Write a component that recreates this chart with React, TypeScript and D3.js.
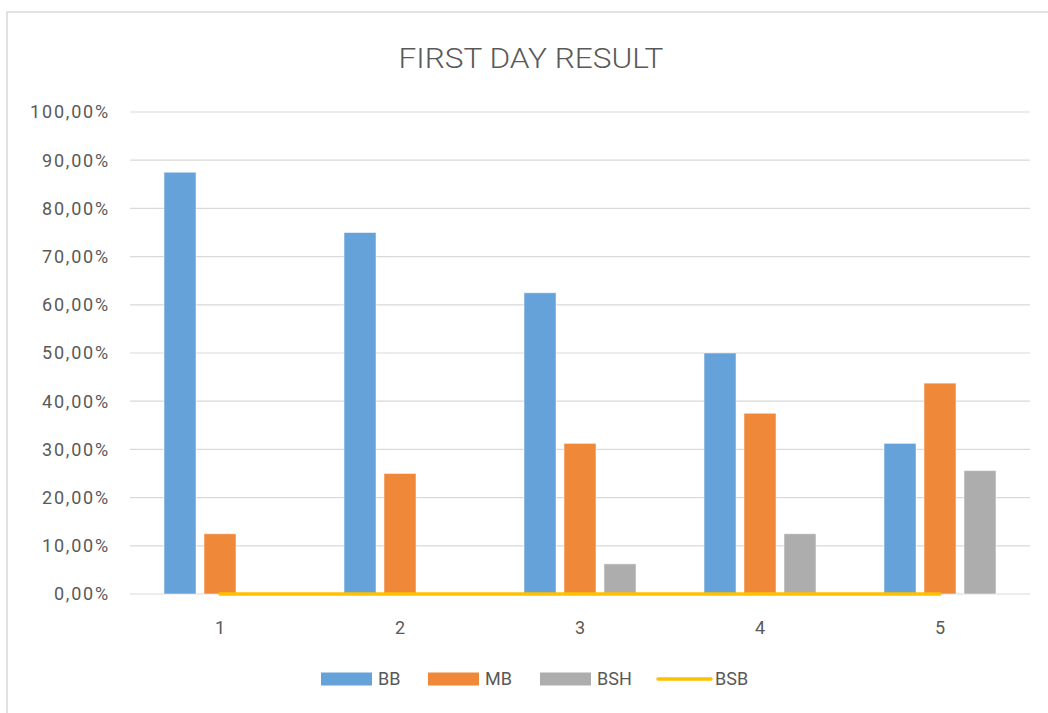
import React, { useEffect, useRef } from 'react';
import * as d3 from 'd3';

const categories = ['1', '2', '3', '4', '5'];
const bbValues = [87.5, 75, 62.5, 50, 31.25];
const mbValues = [12.5, 25, 31.25, 37.5, 43.75];
const bshValues = [0, 0, 6.25, 12.5, 25.6];
const bsbValues = [0, 0, 0, 0, 0];
const yTicks = [0, 10, 20, 30, 40, 50, 60, 70, 80, 90, 100];

const barSeries = [
  { name: 'BB', values: bbValues, color: '#65a2d9' },
  { name: 'MB', values: mbValues, color: '#ef8839' },
  { name: 'BSH', values: bshValues, color: '#adadad' },
];
const lineSeries = { name: 'BSB', values: bsbValues, color: '#ffc000' };

export default function App() {
  const ref = useRef<SVGSVGElement>(null);

  useEffect(() => {
    const width = 1048;
    const height = 713;
    const margin = { top: 112, bottom: 119, left: 130, right: 18 };
    const font = 'Roboto, "Open Sans", sans-serif';
    const textColor = '#595959';

    const svg = d3.select(ref.current);
    svg.selectAll('*').remove();

    // chart frame
    svg
      .append('rect')
      .attr('x', 7)
      .attr('y', 12)
      .attr('width', width + 20)
      .attr('height', height + 20)
      .attr('fill', '#fff')
      .attr('stroke', '#d9d9d9')
      .attr('stroke-width', 1.5);

    svg
      .append('text')
      .attr('x', 531)
      .attr('y', 68)
      .attr('text-anchor', 'middle')
      .attr('font-family', font)
      .attr('font-size', 28)
      .attr('font-weight', 300)
      .attr('fill', textColor)
      .attr('textLength', 265)
      .attr('lengthAdjust', 'spacingAndGlyphs')
      .text('FIRST DAY RESULT');

    const xScale = d3
      .scaleBand()
      .domain(categories)
      .range([margin.left, width - margin.right])
      .paddingInner(0.378)
      .paddingOuter(0.189);

    const subScale = d3
      .scaleBand()
      .domain(barSeries.map((s) => s.name))
      .range([0, xScale.bandwidth()])
      .paddingInner(0.2)
      .paddingOuter(0);

    const yScale = d3
      .scaleLinear()
      .domain([0, 100])
      .range([height - margin.bottom, margin.top]);

    // gridlines
    svg
      .append('g')
      .selectAll('line')
      .data(yTicks)
      .enter()
      .append('line')
      .attr('x1', margin.left)
      .attr('x2', width - margin.right)
      .attr('y1', (d) => yScale(d))
      .attr('y2', (d) => yScale(d))
      .attr('stroke', '#d9d9d9')
      .attr('stroke-width', 1.2);

    // y labels
    svg
      .append('g')
      .selectAll('text')
      .data(yTicks)
      .enter()
      .append('text')
      .attr('x', 110)
      .attr('y', (d) => yScale(d))
      .attr('dy', '0.35em')
      .attr('text-anchor', 'end')
      .attr('font-family', font)
      .attr('font-size', 18)
      .attr('letter-spacing', 1.8)
      .attr('fill', textColor)
      .text((d) => d.toFixed(2).replace('.', ',') + '%');

    // bars
    const groups = svg
      .append('g')
      .selectAll('g')
      .data(barSeries)
      .enter()
      .append('g')
      .attr('fill', (d) => d.color);

    groups
      .selectAll('rect')
      .data((s) => s.values.map((v, i) => ({ name: s.name, cat: categories[i], value: v })))
      .enter()
      .append('rect')
      .attr('x', (d) => (xScale(d.cat) as number) + (subScale(d.name) as number))
      .attr('y', (d) => yScale(d.value))
      .attr('width', subScale.bandwidth())
      .attr('height', (d) => yScale(0) - yScale(d.value))
      .attr('stroke', '#ffffff')
      .attr('stroke-opacity', 0.5)
      .attr('stroke-width', 1);

    // line series
    const line = d3
      .line<number>()
      .x((_, i) => (xScale(categories[i]) as number) + xScale.bandwidth() / 2)
      .y((d) => yScale(d));

    svg
      .append('path')
      .attr('d', line(lineSeries.values))
      .attr('fill', 'none')
      .attr('stroke', lineSeries.color)
      .attr('stroke-width', 3.5)
      .attr('stroke-linecap', 'round');

    // x labels
    svg
      .append('g')
      .selectAll('text')
      .data(categories)
      .enter()
      .append('text')
      .attr('x', (d) => (xScale(d) as number) + xScale.bandwidth() / 2)
      .attr('y', 628)
      .attr('dy', '0.35em')
      .attr('text-anchor', 'middle')
      .attr('font-family', font)
      .attr('font-size', 18)
      .attr('fill', textColor)
      .text((d) => d);

    // legend
    const legendItems = [
      { name: 'BB', color: barSeries[0].color, x: 321, type: 'bar' },
      { name: 'MB', color: barSeries[1].color, x: 428, type: 'bar' },
      { name: 'BSH', color: barSeries[2].color, x: 540, type: 'bar' },
      { name: 'BSB', color: lineSeries.color, x: 657, type: 'line' },
    ];
    const legendY = 679;
    const legend = svg
      .append('g')
      .selectAll('g')
      .data(legendItems)
      .enter()
      .append('g')
      .attr('transform', (d) => `translate(${d.x}, ${legendY})`);

    legend
      .filter((d) => d.type === 'bar')
      .append('rect')
      .attr('x', 0)
      .attr('y', -6.5)
      .attr('width', 51)
      .attr('height', 13)
      .attr('fill', (d) => d.color);

    legend
      .filter((d) => d.type === 'line')
      .append('line')
      .attr('x1', 1)
      .attr('x2', 54)
      .attr('y1', 0)
      .attr('y2', 0)
      .attr('stroke', (d) => d.color)
      .attr('stroke-width', 3.5)
      .attr('stroke-linecap', 'round');

    legend
      .append('text')
      .attr('x', (d) => (d.type === 'line' ? 58 : 57))
      .attr('y', 0)
      .attr('dy', '0.35em')
      .attr('font-family', font)
      .attr('font-size', 18)
      .attr('fill', textColor)
      .text((d) => d.name);
  }, []);

  return (
    <svg
      ref={ref}
      width={1048}
      height={713}
      style={{ position: 'absolute', left: 0, top: 0, display: 'block' }}
    />
  );
}
